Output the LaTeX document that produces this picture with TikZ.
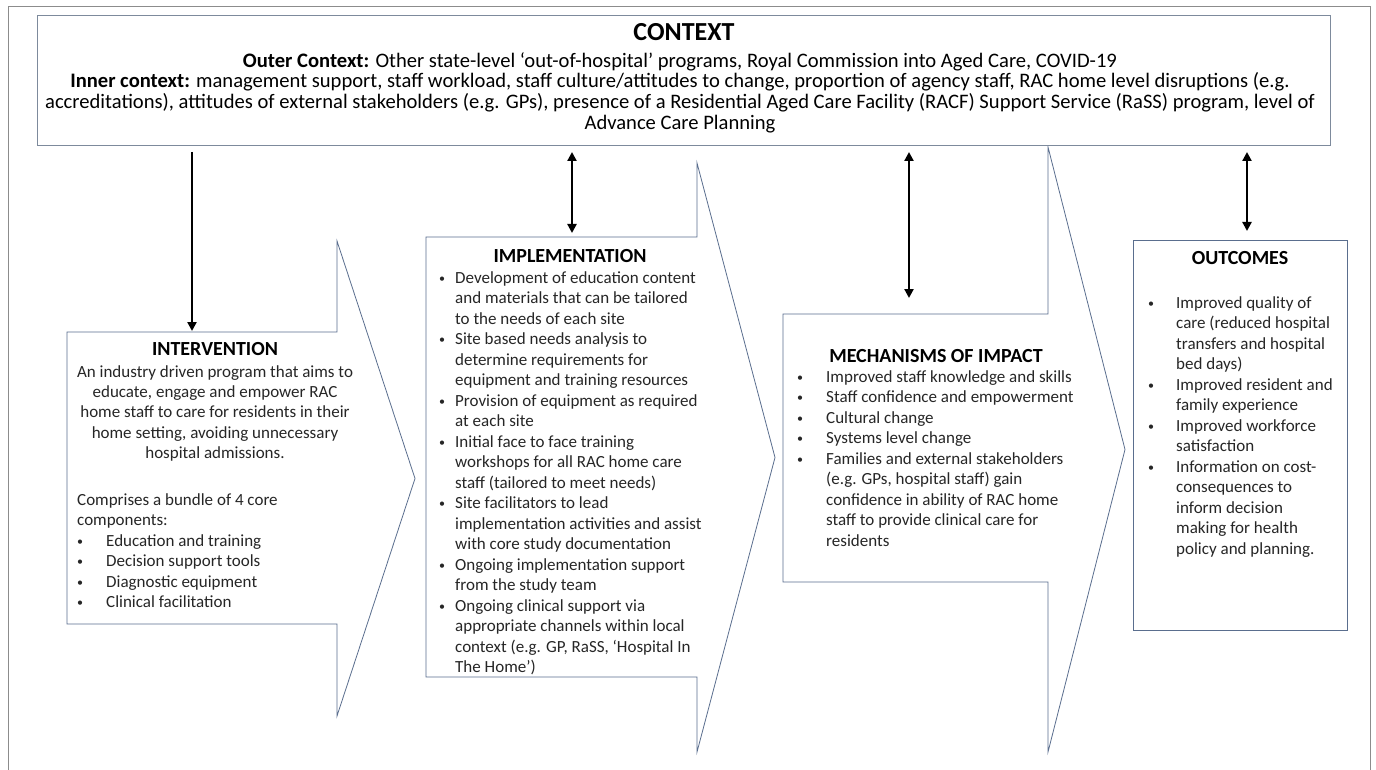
\documentclass[tikz,border=0pt]{standalone}
\usepackage{fontspec}
\setmainfont{Carlito}
\usetikzlibrary{arrows.meta}
\definecolor{shapeblue}{HTML}{5A6E8E}
\definecolor{framegray}{HTML}{8C8C8C}
\definecolor{ctxline}{HTML}{7D8A9C}
\definecolor{bodytext}{HTML}{262626}
\newcommand{\mybul}[1]{\makebox[#1][l]{\raisebox{1pt}{\fontsize{12}{12}\selectfont\textbullet}}}
\newcommand{\mycont}[1]{\hspace*{#1}}
\tikzset{
  blockarrow/.style={draw=shapeblue, line width=0.8pt, fill=white, line join=miter},
  ttl/.style={font=\fontsize{20}{22}\selectfont\bfseries, inner sep=0pt, anchor=base, text=black},
  ctxttl/.style={font=\fontsize{26}{28}\selectfont\bfseries, inner sep=0pt, anchor=base, text=black},
  bodyl/.style={font=\fontsize{17}{20.5}\selectfont, inner sep=0pt, anchor=north west, align=left, text=bodytext},
  bodyc/.style={font=\fontsize{17}{20.3}\selectfont, inner sep=0pt, anchor=north, align=center, text=bodytext},
  ctxtext/.style={font=\fontsize{20.6}{20.7}\selectfont, inner sep=0pt, anchor=north, align=center, text=black},
  conn/.style={line width=2.6pt, -{Triangle[length=9pt,width=9pt]}},
  conntwo/.style={line width=2.6pt, {Triangle[length=9pt,width=9pt]}-{Triangle[length=9pt,width=9pt]}},
}
\begin{document}
\begin{tikzpicture}[x=1pt,y=-1pt]
\useasboundingbox (0,0) rectangle (1376,770);
\fill[white] (0,0) rectangle (1376,770);
% outer frame
\draw[framegray, line width=0.8pt] (8,770) -- (8,6) -- (1370,6) -- (1370,770);

% block arrows
\path[blockarrow] (67,332) -- (337,332) -- (337,241) -- (415,478.5) -- (337,716) -- (337,624) -- (67,624) -- cycle;
\path[blockarrow] (426,237) -- (697,237) -- (697,163) -- (775,457.5) -- (697,752) -- (697,677) -- (426,677) -- cycle;
\path[blockarrow] (783,314) -- (1048,314) -- (1048,147) -- (1125,449.5) -- (1048,752) -- (1048,582) -- (783,582) -- cycle;
\node[draw=shapeblue, line width=0.8pt, fill=white, inner sep=0pt, minimum width=214pt, minimum height=390pt, anchor=north west] (outc) at (1133,240) {};

% context box
\node[draw=ctxline, line width=0.8pt, fill=white, inner sep=0pt, minimum width=1293pt, minimum height=130pt, anchor=north west] (ctx) at (37,15) {};
\node[ctxttl] (ctxt) at (684,41) {CONTEXT};
\node[ctxtext] (ctxb) at (680,52) {\rule{0pt}{15pt}\textbf{Outer Context:} Other state-level ‘out-of-hospital’ programs, Royal Commission into Aged Care, COVID-19\\
\textbf{Inner context:} management support, staff workload, staff culture/attitudes to change, proportion of agency staff, RAC home level disruptions (e.g.\\
accreditations), attitudes of external stakeholders (e.g. GPs), presence of a Residential Aged Care Facility (RACF) Support Service (RaSS) program, level of\\
Advance Care Planning};

% intervention
\node[ttl] (intt) at (215,355) {INTERVENTION};
\node[bodyc] (intb) at (215,362) {\rule{0pt}{15pt}An industry driven program that aims to\\
educate, engage and empower RAC\\
home staff to care for residents in their\\
home setting, avoiding unnecessary\\
hospital admissions.};
\node[bodyl] (intl) at (77,490) {\rule{0pt}{15pt}Comprises a bundle of 4 core\\
components:\\
\mybul{29pt}Education and training\\
\mybul{29pt}Decision support tools\\
\mybul{29pt}Diagnostic equipment\\
\mybul{29pt}Clinical facilitation};

% implementation
\node[ttl] (impt) at (570,262) {IMPLEMENTATION};
\node[bodyl] (impl) at (439,268) {\rule{0pt}{15pt}\mybul{16pt}Development of education content\\
\mycont{16pt}and materials that can be tailored\\
\mycont{16pt}to the needs of each site\\
\mybul{16pt}Site based needs analysis to\\
\mycont{16pt}determine requirements for\\
\mycont{16pt}equipment and training resources\\
\mybul{16pt}Provision of equipment as required\\
\mycont{16pt}at each site\\
\mybul{16pt}Initial face to face training\\
\mycont{16pt}workshops for all RAC home care\\
\mycont{16pt}staff (tailored to meet needs)\\
\mybul{16pt}Site facilitators to lead\\
\mycont{16pt}implementation activities and assist\\
\mycont{16pt}with core study documentation\\
\mybul{16pt}Ongoing implementation support\\
\mycont{16pt}from the study team\\
\mybul{16pt}Ongoing clinical support via\\
\mycont{16pt}appropriate channels within local\\
\mycont{16pt}context (e.g. GP, RaSS, ‘Hospital In\\
\mycont{16pt}The Home’)};

% mechanisms
\node[ttl] (mect) at (936,362) {MECHANISMS OF IMPACT};
\node[bodyl] (mecl) at (797,367) {\rule{0pt}{15pt}\mybul{29pt}Improved staff knowledge and skills\\
\mybul{29pt}Staff confidence and empowerment\\
\mybul{29pt}Cultural change\\
\mybul{29pt}Systems level change\\
\mybul{29pt}Families and external stakeholders\\
\mycont{29pt}(e.g. GPs, hospital staff) gain\\
\mycont{29pt}confidence in ability of RAC home\\
\mycont{29pt}staff to provide clinical care for\\
\mycont{29pt}residents};

% outcomes
\node[ttl] (outt) at (1240,265) {OUTCOMES};
\node[bodyl] (outl) at (1148,293) {\rule{0pt}{15pt}\mybul{28pt}Improved quality of\\
\mycont{28pt}care (reduced hospital\\
\mycont{28pt}transfers and hospital\\
\mycont{28pt}bed days)\\
\mybul{28pt}Improved resident and\\
\mycont{28pt}family experience\\
\mybul{28pt}Improved workforce\\
\mycont{28pt}satisfaction\\
\mybul{28pt}Information on cost-\\
\mycont{28pt}consequences to\\
\mycont{28pt}inform decision\\
\mycont{28pt}making for health\\
\mycont{28pt}policy and planning.};

% connectors
\coordinate (c1) at (192,152);
\coordinate (i1) at (192,331);
\coordinate (c2) at (572,152);
\coordinate (i2) at (572,233);
\coordinate (c3) at (909,152);
\coordinate (i3) at (909,298);
\coordinate (c4) at (1247,152);
\coordinate (i4) at (1247,231);
\draw[conn] (c1) -- (i1);
\draw[conntwo] (c2) -- (i2);
\draw[conntwo] (c3) -- (i3);
\draw[conntwo] (c4) -- (i4);
\end{tikzpicture}
\end{document}
